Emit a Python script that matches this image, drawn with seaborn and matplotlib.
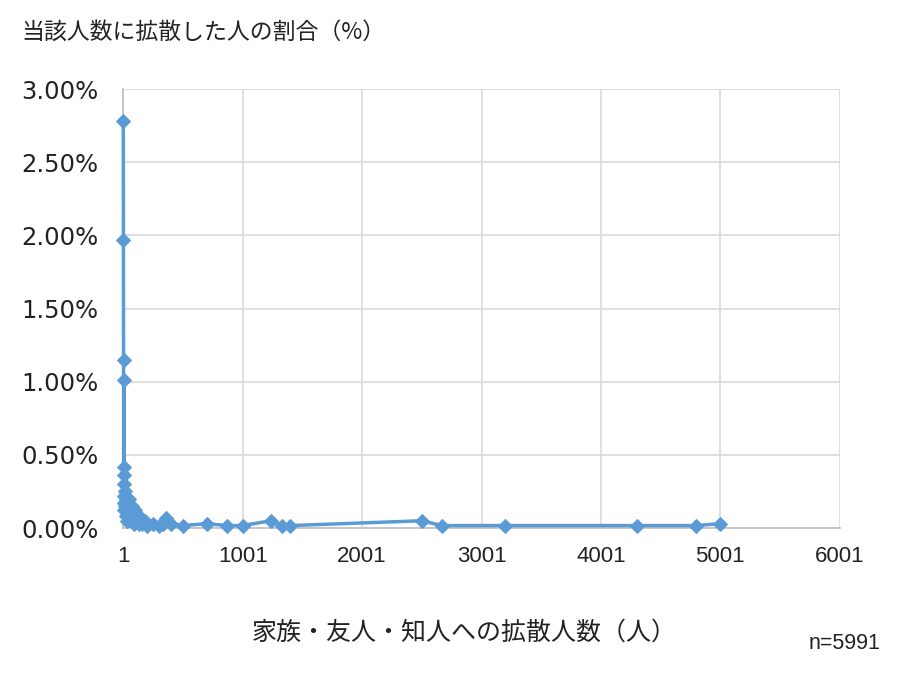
import matplotlib
matplotlib.use("Agg")
import pandas as pd
from matplotlib import pyplot as plt
import seaborn as sns

# 拡散人数 (人) と その人数に拡散した人の割合 (%)
people = [1, 2, 3, 4, 5, 6, 7, 8, 9, 10, 12, 15, 20, 25, 30, 35, 40, 50, 60, 70,
          80, 90, 100, 120, 130, 150, 160, 180, 200, 250, 300, 330, 350, 360, 400,
          500, 700, 870, 1000, 1240, 1330, 1400, 2500, 2670, 3200, 4300, 4800, 5000]
share = [2.78, 1.97, 1.15, 0.42, 1.01, 0.30, 0.22, 0.17, 0.12, 0.36, 0.15, 0.25,
         0.19, 0.08, 0.13, 0.05, 0.10, 0.20, 0.07, 0.15, 0.05, 0.03, 0.12, 0.05,
         0.03, 0.07, 0.03, 0.05, 0.017, 0.03, 0.017, 0.03, 0.05, 0.07, 0.03, 0.017,
         0.03, 0.017, 0.017, 0.05, 0.017, 0.017, 0.05, 0.017, 0.017, 0.017, 0.017, 0.03]

x_ticks = [1, 1001, 2001, 3001, 4001, 5001, 6001]
y_ticks = [0.0, 0.5, 1.0, 1.5, 2.0, 2.5, 3.0]

sns.set_style("white")
plt.rcParams['font.family'] = ['Noto Sans CJK JP', 'DejaVu Sans']

df = pd.DataFrame({'people': people, 'share': share})

fig = plt.figure(figsize=(9, 6.77), dpi=100)
ax = fig.add_axes([0.137, 0.22, 0.796, 0.6485])

sns.lineplot(data=df, x='people', y='share', ax=ax, color='#5B9BD5',
             linewidth=2.5, marker='D', markersize=7,
             markeredgecolor='#5B9BD5', sort=True, clip_on=False, zorder=5)

ax.set_xlim(1, 6001)
ax.set_ylim(0, 3.0)
ax.set_xticks(x_ticks)
ax.set_yticks(y_ticks)
ax.set_xticklabels([str(t) for t in x_ticks], family='Liberation Sans', fontsize=16)
ax.set_yticklabels([f"{t:.2f}%" for t in y_ticks], family='DejaVu Sans', fontsize=17.5)
ax.tick_params(axis='x', length=0, pad=13, colors='#222222')
ax.tick_params(axis='y', length=0, pad=18, colors='#222222')

ax.grid(True, color='#D9D9D9', linewidth=1.2)
ax.set_axisbelow(True)
for side in ['top', 'right']:
    ax.spines[side].set_visible(False)
for side in ['left', 'bottom']:
    ax.spines[side].set_color('#BFBFBF')
    ax.spines[side].set_linewidth(1.2)

ax.set_xlabel('')
ax.set_ylabel('')

fig.text(0.024, 0.952, '当該人数に拡散した人の割合（%）', fontsize=16.5,
         va='center', ha='left', color='#222222')
fig.text(0.516, 0.066, '家族・友人・知人への拡散人数（人）', fontsize=18,
         va='center', ha='center', color='#222222')
fig.text(0.978, 0.05, 'n=5991', fontsize=15.5, va='center', ha='right',
         family='Liberation Sans', color='#222222')

fig.savefig('out.png', dpi=100)
